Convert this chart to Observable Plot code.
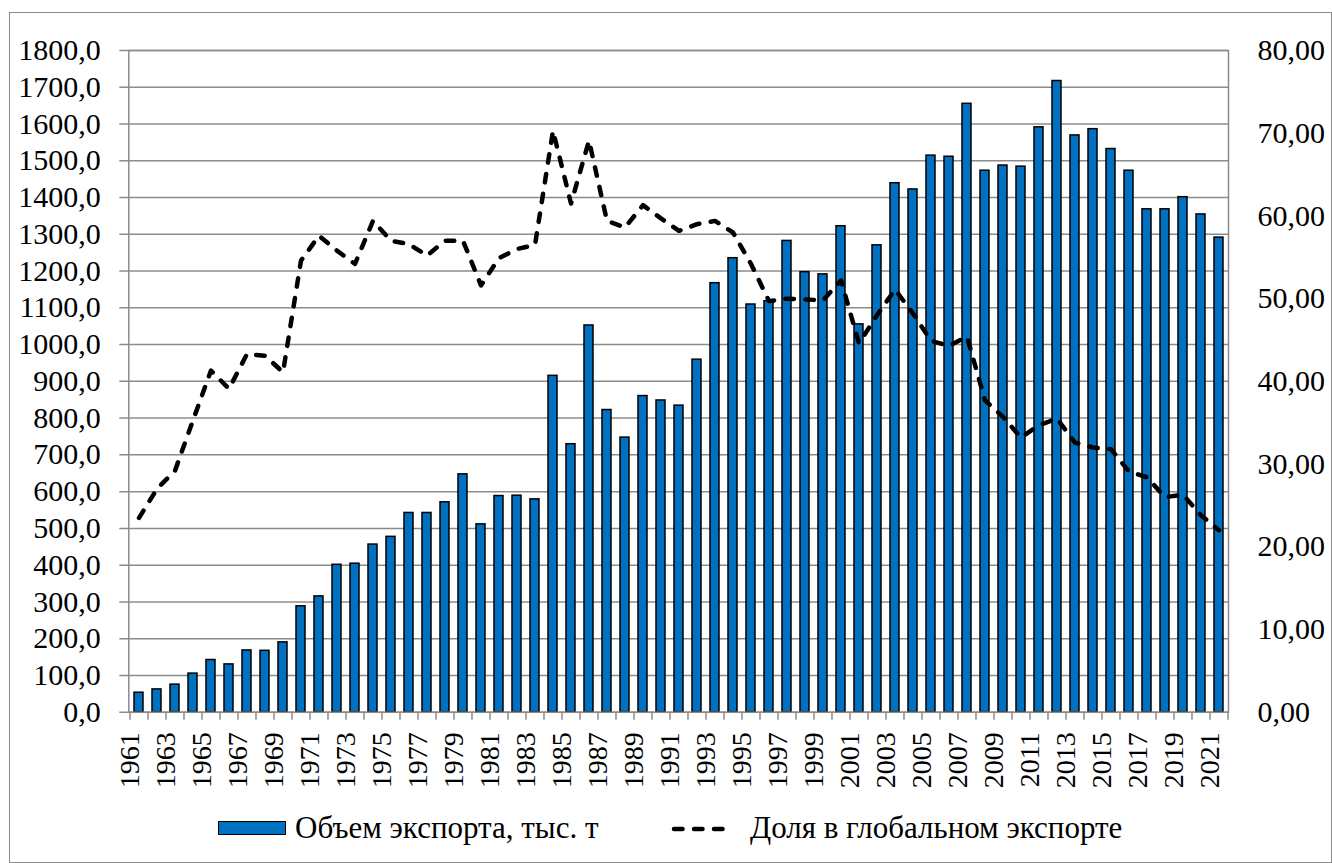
<!DOCTYPE html>
<html><head><meta charset="utf-8">
<script src="https://cdn.jsdelivr.net/npm/d3@7"></script>
<script src="https://cdn.jsdelivr.net/npm/@observablehq/plot@0.6"></script>
<style>
body{margin:0;background:#fff;}
#wrap{position:relative;width:1332px;height:863px;overflow:hidden;font-family:"Liberation Serif","Times New Roman",serif;color:#000;}
#border{position:absolute;left:9px;top:12px;width:1323px;height:851px;border:1.5px solid #8c8c8c;box-sizing:border-box;}
#chart{position:absolute;left:0;top:0;}
#chart svg{overflow:visible;background:transparent;}
.leg{position:absolute;font-size:31px;line-height:30px;white-space:nowrap;}
#sw1{position:absolute;left:218px;top:821px;width:68px;height:14px;background:#0070C0;border:1.5px solid #000;box-sizing:border-box;}
#sw2{position:absolute;left:668px;top:822px;}
</style></head>
<body><div id="wrap">
<div id="border"></div>
<div id="chart"></div>
<div id="sw1"></div>
<div class="leg" style="left:295px;top:813px;">Объем экспорта, тыс. т</div>
<svg id="sw2" width="72" height="14"><line x1="6" y1="7" x2="66" y2="7" stroke="#000" stroke-width="4.5" stroke-linecap="round" stroke-dasharray="8.5,11.5"/></svg>
<div class="leg" style="left:750px;top:813px;">Доля в глобальном экспорте</div>
</div>
<script>
const years = [1961,1962,1963,1964,1965,1966,1967,1968,1969,1970,1971,1972,1973,1974,1975,1976,1977,1978,1979,1980,1981,1982,1983,1984,1985,1986,1987,1988,1989,1990,1991,1992,1993,1994,1995,1996,1997,1998,1999,2000,2001,2002,2003,2004,2005,2006,2007,2008,2009,2010,2011,2012,2013,2014,2015,2016,2017,2018,2019,2020,2021];
const exportVolume = [53,62,75,105,142,130,168,167,190,288,315,401,404,456,477,542,542,571,647,511,588,589,579,915,729,1052,822,747,860,848,834,959,1167,1235,1109,1118,1282,1197,1191,1322,1055,1270,1439,1422,1514,1511,1655,1473,1487,1484,1591,1717,1569,1586,1532,1473,1368,1368,1401,1354,1291];
const globalShare = [23.5,27.0,29.2,35.3,41.3,39.1,43.3,43.1,41.1,54.6,57.6,55.8,54.2,59.4,57.0,56.6,55.2,57.0,57.0,51.6,54.9,56.0,56.5,70.3,61.5,69.1,59.4,58.6,61.3,59.7,58.2,59.0,59.4,58.0,54.2,49.7,50.0,49.9,49.8,52.2,44.6,48.0,51.1,48.2,44.9,44.3,45.4,37.7,35.7,33.2,34.7,35.5,32.6,32.0,31.8,29.1,28.4,26.0,26.3,23.8,22.0];
const leftTicks = [0,100,200,300,400,500,600,700,800,900,1000,1100,1200,1300,1400,1500,1600,1700,1800];
const rightTicks = [0,10,20,30,40,50,60,70,80];
const labelYears = years.filter((y, i) => i % 2 === 0);

const leftMax = 1800, rightMax = 80, k = leftMax / rightMax;
const data = years.map((y, i) => ({year: String(y), volume: exportVolume[i], share: globalShare[i]}));

const W = 1332, H = 790, mL = 128.3, mR = 104, mT = 50, mB = 78.3;
const step = (W - mL - mR) / years.length;
const grid = "#8c8c8c";
const serif = "Liberation Serif";
const lastYear = String(years[years.length - 1]);

const chart = Plot.plot({
  width: W, height: H,
  marginLeft: mL, marginRight: mR, marginTop: mT, marginBottom: mB,
  x: {type: "band", domain: years.map(String), paddingInner: 0.5, paddingOuter: 0.25, axis: null},
  y: {domain: [0, leftMax], axis: null},
  marks: [
    Plot.ruleY(leftTicks, {stroke: grid, strokeWidth: 1.5, insetLeft: -9}),
    Plot.ruleY(rightTicks.map(v => v * k), {x1: lastYear, x2: lastYear, insetLeft: 0.75 * step, insetRight: -(0.25 * step + 9), stroke: grid, strokeWidth: 1.5}),
    Plot.barY(data, {x: "year", y: "volume", fill: "#0070C0", stroke: "#000", strokeWidth: 1.5}),
    Plot.line(data, {x: "year", y: d => d.share * k, stroke: "#000", strokeWidth: 4.5, strokeDasharray: "8.5,11.5", strokeLinecap: "round", strokeLinejoin: "round"}),
    Plot.frame({stroke: grid, strokeWidth: 1.5}),
    Plot.ruleX(years.map(String), {x: d => d, y1: 0, y2: 0, dx: -step / 2, insetBottom: -8, stroke: grid, strokeWidth: 1.5}),
    Plot.ruleX([lastYear], {x: d => d, y1: 0, y2: 0, dx: step / 2, insetBottom: -8, stroke: grid, strokeWidth: 1.5}),
    Plot.text(leftTicks, {y: d => d, text: d => d3.format(".1f")(d).replace(".", ","), frameAnchor: "left", textAnchor: "end", dx: -28, fontSize: 30, fontFamily: serif, fill: "#000"}),
    Plot.text(rightTicks, {y: d => d * k, text: d => d3.format(".2f")(d).replace(".", ","), frameAnchor: "right", textAnchor: "start", dx: 29, fontSize: 30, fontFamily: serif, fill: "#000"}),
    Plot.text(labelYears, {x: d => String(d), text: d => String(d), frameAnchor: "bottom", rotate: -90, textAnchor: "end", dy: 20, fontSize: 28, fontFamily: serif, fill: "#000"})
  ]
});
document.getElementById("chart").appendChild(chart);
</script>
</body></html>
